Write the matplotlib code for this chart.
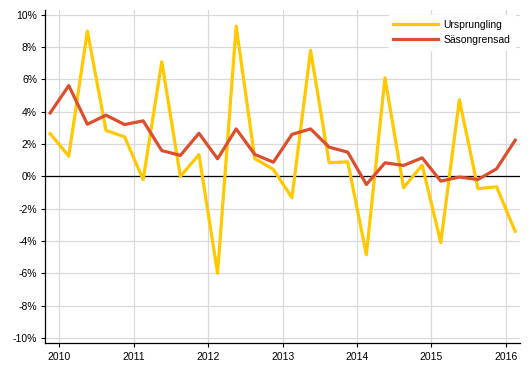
import numpy as np
import matplotlib.pyplot as plt
from matplotlib.ticker import FuncFormatter

plt.rcParams['font.family'] = ['Liberation Sans', 'DejaVu Sans']

# quarters 2009Q4 .. 2016Q1
quarters = ['2009Q4',
            '2010Q1', '2010Q2', '2010Q3', '2010Q4',
            '2011Q1', '2011Q2', '2011Q3', '2011Q4',
            '2012Q1', '2012Q2', '2012Q3', '2012Q4',
            '2013Q1', '2013Q2', '2013Q3', '2013Q4',
            '2014Q1', '2014Q2', '2014Q3', '2014Q4',
            '2015Q1', '2015Q2', '2015Q3', '2015Q4',
            '2016Q1']
ursprunglig = [2.65, 1.25, 9.0, 2.85, 2.45, -0.2, 7.1, 0.0, 1.35, -6.0, 9.3, 1.1, 0.43,
               -1.32, 7.8, 0.85, 0.9, -4.85, 6.1, -0.7, 0.7, -4.1, 4.75, -0.76, -0.64, -3.4]
sasongrensad = [3.93, 5.62, 3.23, 3.79, 3.21, 3.44, 1.6, 1.3, 2.67, 1.09, 2.94, 1.36, 0.88,
                2.6, 2.94, 1.81, 1.5, -0.5, 0.84, 0.68, 1.15, -0.29, -0.04, -0.19, 0.47, 2.24]
years = [2010, 2011, 2012, 2013, 2014, 2015, 2016]

# mid-quarter positions on a year axis
x = [int(q[:4]) + (int(q[-1]) - 0.5) / 4 for q in quarters]

fig = plt.figure(figsize=(5.29, 3.78), dpi=100)
ax = fig.add_axes([0.0857, 0.0918, 0.8973, 0.8817])

ax.plot(x, ursprunglig, color='#ffc800', lw=2.3, label='Ursprungling', zorder=3)
ax.plot(x, sasongrensad, color='#dc4f2e', lw=2.3, label='Säsongrensad', zorder=4)
ax.axhline(0, color='black', lw=0.9, zorder=2)

ax.set_xlim(2009.81, 2016.19)
ax.set_ylim(-10.33, 10.3)
ax.set_xticks(years)
ax.set_yticks(np.arange(-10, 11, 2))
ax.yaxis.set_major_formatter(FuncFormatter(lambda v, p: f'{v:.0f}%'))
ax.grid(True, color='#d9d9d9', lw=0.9)
ax.set_axisbelow(True)

for s in ['top', 'right']:
    ax.spines[s].set_visible(False)
for s in ['left', 'bottom']:
    ax.spines[s].set_linewidth(0.9)
ax.tick_params(length=3, width=0.8, labelsize=7.5, pad=3)

leg = ax.legend(loc='upper right', bbox_to_anchor=(1.0, 1.0), fontsize=7.5,
                frameon=True, fancybox=False, handlelength=4.3, handletextpad=0.5,
                labelspacing=0.5, borderpad=0.45)
leg.get_frame().set_edgecolor('white')
leg.get_frame().set_facecolor('white')
leg.get_frame().set_alpha(1)

fig.savefig('out.png', dpi=100)
